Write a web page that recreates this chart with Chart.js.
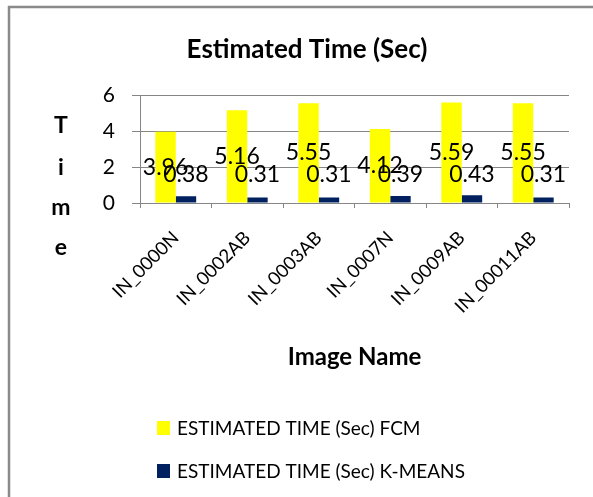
<!DOCTYPE html>
<html>
<head>
<meta charset="utf-8">
<script src="https://cdn.jsdelivr.net/npm/chart.js@4/dist/chart.umd.min.js"></script>
<style>
  html, body { margin: 0; padding: 0; background: #fff; }
  #wrap { position: relative; width: 593px; height: 497px; }
</style>
</head>
<body>
<div id="wrap"><canvas id="c" width="593" height="497"></canvas></div>
<script>
// ---- data ----
const chartTitle = 'Estimated Time (Sec)';
const xAxisTitle = 'Image Name';
const yAxisTitleLetters = ['T', 'i', 'm', 'e'];
const categories = ['IN_0000N', 'IN_0002AB', 'IN_0003AB', 'IN_0007N', 'IN_0009AB', 'IN_00011AB'];
const seriesNames = ['ESTIMATED TIME (Sec) FCM', 'ESTIMATED TIME (Sec) K-MEANS'];
const fcmValues = [3.96, 5.16, 5.55, 4.12, 5.59, 5.55];
const kmeansValues = [0.38, 0.31, 0.31, 0.39, 0.43, 0.31];
const yTicks = [0, 2, 4, 6];

const FONT = 'Lato, "Liberation Sans", Arial, sans-serif';
const GRID = '#868686';
const COLORS = ['#FFFF00', '#002060'];

const framePlugin = {
  id: 'frame',
  beforeDraw(chart) {
    const ctx = chart.ctx;
    ctx.save();
    ctx.fillStyle = '#fff';
    ctx.fillRect(0, 0, chart.width, chart.height);
    ctx.strokeStyle = '#8a8a8a';
    ctx.lineWidth = 2.5;
    ctx.beginPath();
    ctx.moveTo(9, chart.height + 2);
    ctx.lineTo(9, 7);
    ctx.lineTo(chart.width + 2, 7);
    ctx.stroke();
    ctx.restore();
  }
};

const yTitlePlugin = {
  id: 'yTitleLetters',
  afterDraw(chart) {
    const ctx = chart.ctx;
    ctx.save();
    ctx.font = 'bold 23px ' + FONT;
    ctx.fillStyle = '#000';
    ctx.textAlign = 'center';
    ctx.textBaseline = 'alphabetic';
    const baselines = [133, 175, 215, 255];
    yAxisTitleLetters.forEach((ch, i) => ctx.fillText(ch, 61, baselines[i]));
    ctx.restore();
  }
};

const dataLabelPlugin = {
  id: 'dataLabels',
  afterDatasetsDraw(chart) {
    const ctx = chart.ctx;
    ctx.save();
    ctx.font = '23px ' + FONT;
    ctx.fillStyle = '#000';
    ctx.textAlign = 'center';
    ctx.textBaseline = 'middle';
    chart.data.datasets.forEach((ds, di) => {
      const meta = chart.getDatasetMeta(di);
      meta.data.forEach((bar, i) => {
        const v = ds.data[i];
        const y = di === 0 ? (bar.y + bar.base) / 2 : bar.base - 28;
        ctx.fillText(v.toFixed(2), bar.x, y);
      });
    });
    ctx.restore();
  }
};

const legendPlugin = {
  id: 'customLegend',
  afterDraw(chart) {
    const ctx = chart.ctx;
    ctx.save();
    ctx.font = '19px ' + FONT;
    ctx.textAlign = 'left';
    ctx.textBaseline = 'middle';
    const rows = [428, 471];
    chart.data.datasets.forEach((ds, i) => {
      ctx.fillStyle = ds.backgroundColor;
      ctx.fillRect(157, rows[i] - 7, 13, 14);
      ctx.fillStyle = '#000';
      ctx.fillText(ds.label, 177, rows[i] + 1);
    });
    ctx.restore();
  }
};

new Chart(document.getElementById('c'), {
  type: 'bar',
  data: {
    labels: categories,
    datasets: [
      { label: seriesNames[0], data: fcmValues, backgroundColor: COLORS[0], borderWidth: 0 },
      { label: seriesNames[1], data: kmeansValues, backgroundColor: COLORS[1], borderWidth: 0 }
    ]
  },
  options: {
    responsive: false,
    animation: false,
    devicePixelRatio: 1,
    layout: { padding: { left: 45, right: 24, top: 0, bottom: 119 } },
    datasets: { bar: { categoryPercentage: 0.5714, barPercentage: 1.0 } },
    plugins: {
      legend: { display: false },
      tooltip: { enabled: false },
      title: {
        display: true,
        text: chartTitle,
        color: '#000',
        font: { family: FONT, size: 26, weight: 'bold' },
        padding: { top: 34, bottom: 30 }
      }
    },
    scales: {
      x: {
        offset: true,
        grid: { display: true, drawOnChartArea: false, drawTicks: true, tickLength: 5, color: GRID, offset: true },
        border: { display: true, color: GRID, width: 1 },
        ticks: {
          color: '#000', font: { family: FONT, size: 18.5 },
          minRotation: 45, maxRotation: 45, autoSkip: false, padding: 19
        },
        title: {
          display: true, text: xAxisTitle, color: '#000',
          font: { family: FONT, size: 24, weight: 'bold' },
          padding: { top: 0, bottom: 6 }
        },
        afterFit(scale) { scale.height = 175; }
      },
      y: {
        min: 0, max: 6,
        afterBuildTicks(scale) { scale.ticks = yTicks.map(v => ({ value: v })); },
        grid: { color: GRID, tickLength: 8, drawTicks: true },
        border: { display: true, color: GRID, width: 1 },
        ticks: { color: '#000', font: { family: FONT, size: 21 }, padding: 17 },
        afterFit(scale) { scale.width = 95; }
      }
    }
  },
  plugins: [framePlugin, dataLabelPlugin, yTitlePlugin, legendPlugin]
});
</script>
</body>
</html>
